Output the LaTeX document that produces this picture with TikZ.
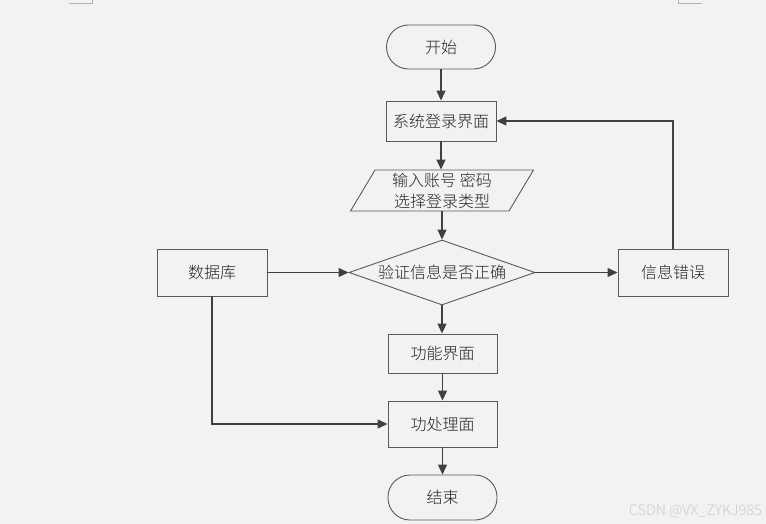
\documentclass[tikz,border=0pt]{standalone}
\usepackage{fontspec}
\setmainfont{Noto Sans CJK SC}[UprightFont=* Light]
\usetikzlibrary{shapes.geometric,arrows.meta}
\definecolor{pagebg}{HTML}{F2F2F2}
\definecolor{edgecol}{HTML}{5A5A5A}
\definecolor{linecol}{HTML}{404040}
\definecolor{txtcol}{HTML}{222222}
\tikzset{
  base/.style={draw=edgecol, line width=0.9pt, fill=pagebg, text=txtcol,
    font=\fontsize{16}{21}\selectfont, inner sep=0pt, align=center},
  procbox/.style={base, rectangle, minimum width=110pt, minimum height=40pt},
  termbox/.style={base, rectangle, rounded corners=22pt, minimum width=109pt, minimum height=44pt},
  iobox/.style={base, trapezium, trapezium left angle=63, trapezium right angle=117,
    trapezium stretches=true, minimum width=183pt, minimum height=41pt},
  decbox/.style={base, diamond, aspect=2.86, minimum width=186pt, minimum height=65pt},
  flow/.style={draw=linecol, line width=1.2pt, -{Triangle[length=10pt,width=9pt]}},
}
\begin{document}
\begin{tikzpicture}[x=1pt,y=-1pt]
  \fill[pagebg] (0,0) rectangle (766,524);
  \useasboundingbox (0,0) rectangle (766,524);
  % page corner marks
  \draw[gray!60, line width=0.8pt] (69,3) -- (92,3) -- (92,0);
  \draw[gray!60, line width=0.8pt] (678,0) -- (678,3) -- (702,3);

  \node[termbox] (start) at (441,47) {开始};
  \node[procbox] (login) at (441,121) {系统登录界面};
  \node[iobox] (input) at (442,190.5) {输入账号 密码\\选择登录类型};
  \node[decbox] (check) at (442,272.5) {验证信息是否正确};
  \node[procbox, minimum height=47pt] (db) at (212,272.5) {数据库};
  \node[procbox, minimum height=47pt] (err) at (673,272.5) {信息错误};
  \node[procbox, minimum width=109pt, minimum height=39pt] (func) at (442.5,353.5) {功能界面};
  \node[procbox, minimum width=109pt, minimum height=46pt] (proc) at (442.5,424) {功处理面};
  \node[termbox, minimum height=45pt] (stop) at (442.5,497.5) {结束};

  \coordinate (errtop) at (err.north |- login.east);
  \coordinate (dbcorner) at (db.south |- proc.west);

  \draw[flow] (start) -- (login);
  \draw[flow] (login.south) -- (login.south |- input.north);
  \draw[flow] (input.south -| check.north) -- (check.north);
  \draw[flow] (db.east) -- (check.west);
  \draw[flow] (check.east) -- (err.west);
  \draw[flow] (check.south) -- (check.south |- func.north);
  \draw[flow] (func) -- (proc);
  \draw[flow] (proc) -- (stop);
  \draw[flow] (err.north) -- (errtop) -- (login.east);
  \draw[flow] (db.south) -- (dbcorner) -- (proc.west);

  \node[text=gray!40, font=\fontsize{14.5}{16}\selectfont, anchor=east, inner sep=0pt] (mark) at (762,511) {CSDN @VX\_ZYKJ985};
\end{tikzpicture}
\end{document}
